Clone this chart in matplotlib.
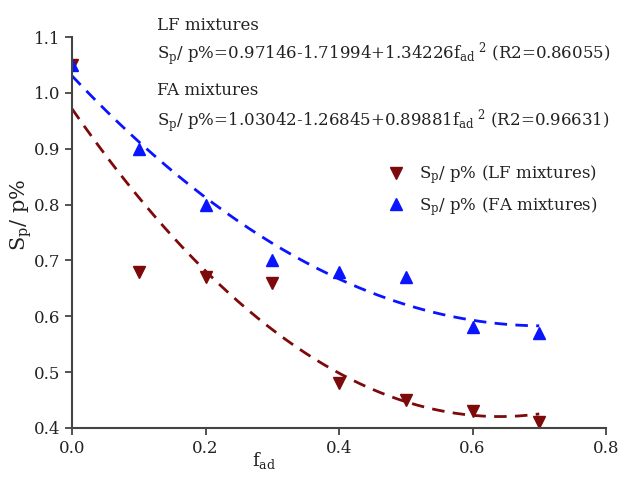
import numpy as np
import matplotlib
matplotlib.use("Agg")
import matplotlib.pyplot as plt

plt.rcParams['font.family'] = ['DejaVu Serif']
plt.rcParams['mathtext.fontset'] = 'custom'
plt.rcParams['mathtext.rm'] = 'DejaVu Serif'
plt.rcParams['mathtext.it'] = 'DejaVu Serif:italic'

f_ad = [0.0, 0.1, 0.2, 0.3, 0.4, 0.5, 0.6, 0.7]
lf_values = [1.05, 0.68, 0.67, 0.66, 0.48, 0.45, 0.43, 0.41]
fa_values = [1.05, 0.90, 0.80, 0.70, 0.68, 0.67, 0.58, 0.57]
# fitted quadratic coefficients as printed on the chart (c0, c1, c2)
lf_fit = [0.97146, -1.71994, 1.34226]
fa_fit = [1.03042, -1.26845, 0.89881]

xticks = [0.0, 0.2, 0.4, 0.6, 0.8]
yticks = [0.4, 0.5, 0.6, 0.7, 0.8, 0.9, 1.0, 1.1]

red = '#7d0a0a'
blue = '#0a14ff'
txt = '#222222'

fig = plt.figure(figsize=(6.19, 4.79), dpi=100)
ax = fig.add_axes([72/619, 1-428/479, (606-72)/619, (428-37)/479])

ax.plot(f_ad, lf_values, linestyle='none', marker='v', ms=9, color=red,
        label=r'S$_\mathregular{p}$/ p% (LF mixtures)')
ax.plot(f_ad, fa_values, linestyle='none', marker='^', ms=9, color=blue,
        label=r'S$_\mathregular{p}$/ p% (FA mixtures)')

xs = np.linspace(0, 0.7, 200)
ax.plot(xs, np.polyval(lf_fit[::-1], xs), linestyle=(0, (4.5, 3)), lw=2, color=red)
ax.plot(xs, np.polyval(fa_fit[::-1], xs), linestyle=(0, (4.5, 3)), lw=2, color=blue)

ax.set_xlim(0, 0.8)
ax.set_ylim(0.4, 1.1)
ax.set_xticks(xticks)
ax.set_yticks(yticks)
ax.set_xticklabels([f'{v:.1f}' for v in xticks])
ax.set_yticklabels([f'{v:.1f}' for v in yticks])
for s in ['top', 'right']:
    ax.spines[s].set_visible(False)
for s in ['left', 'bottom']:
    ax.spines[s].set_linewidth(1.5)
    ax.spines[s].set_color('#444444')
ax.tick_params(direction='out', length=5, width=1.3, colors='#444444',
               labelcolor=txt, labelsize=12)

ax.set_ylabel(r'S$_\mathregular{p}$/ p%', fontsize=15, color=txt)
ax.yaxis.set_label_coords(-0.072, 0.545)
ax.set_xlabel(r'f$_\mathregular{ad}$', fontsize=13, color=txt)
ax.xaxis.set_label_coords(0.36, -0.055)

tfs = 12
x0 = 0.127
ax.text(x0, 1.120, 'LF mixtures', fontsize=tfs, color=txt, va='center')
ax.text(x0, 1.070, r'S$_\mathregular{p}$/ p%=0.97146-1.71994+1.34226f$_\mathregular{ad}$$^\mathregular{\ 2}$ (R2=0.86055)',
        fontsize=tfs, color=txt, va='center')
ax.text(x0, 1.005, 'FA mixtures', fontsize=tfs, color=txt, va='center')
ax.text(x0, 0.950, r'S$_\mathregular{p}$/ p%=1.03042-1.26845+0.89881f$_\mathregular{ad}$$^\mathregular{\ 2}$ (R2=0.96631)',
        fontsize=tfs, color=txt, va='center')

leg = ax.legend(loc='upper left', bbox_to_anchor=(0.56, 0.715), frameon=False,
                fontsize=tfs, handletextpad=0.8, handlelength=1.2,
                labelspacing=0.5, labelcolor=txt)

fig.savefig('out.png', dpi=100)
